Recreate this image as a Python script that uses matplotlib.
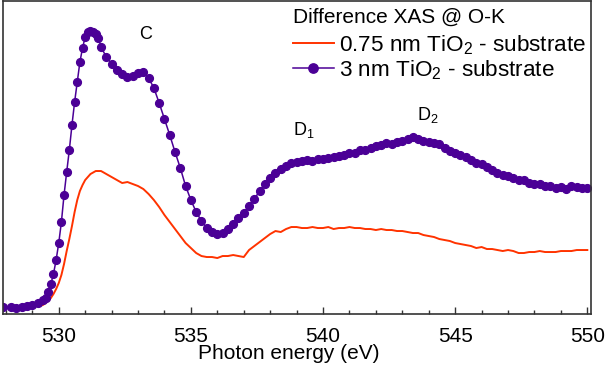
import numpy as np
import matplotlib
matplotlib.use("Agg")
import matplotlib.pyplot as plt

plt.rcParams['font.family'] = ['Liberation Sans', 'DejaVu Sans']
plt.rcParams['mathtext.fontset'] = 'custom'
plt.rcParams['mathtext.rm'] = 'Liberation Sans'
plt.rcParams['mathtext.it'] = 'Liberation Sans:italic'

# 3 nm TiO2 - substrate (arbitrary units)
e_thick = [527.9, 528.2, 528.4, 528.6, 528.8, 529.0, 529.2, 529.4, 529.5, 529.6,
           529.7, 529.8, 529.9, 530.0, 530.1, 530.2, 530.3, 530.4, 530.5, 530.6,
           530.7, 530.8, 530.9, 531.0, 531.1, 531.2, 531.3, 531.4, 531.5, 531.6,
           531.8, 532.0, 532.2, 532.4, 532.6, 532.8, 533.0, 533.2, 533.4, 533.6,
           533.8, 534.0, 534.2, 534.4, 534.6, 534.8, 535.0, 535.2, 535.4, 535.6,
           535.8, 536.0, 536.2, 536.4, 536.6, 536.8, 537.0, 537.2, 537.4, 537.6,
           537.8, 538.0, 538.2, 538.4, 538.6, 538.8, 539.0, 539.2, 539.4, 539.6,
           539.8, 540.0, 540.2, 540.4, 540.6, 540.8, 541.0, 541.2, 541.4, 541.6,
           541.8, 542.0, 542.2, 542.4, 542.6, 542.8, 543.0, 543.2, 543.4, 543.6,
           543.8, 544.0, 544.2, 544.4, 544.6, 544.8, 545.0, 545.2, 545.4, 545.6,
           545.8, 546.0, 546.2, 546.4, 546.6, 546.8, 547.0, 547.2, 547.4, 547.6,
           547.8, 548.0, 548.2, 548.4, 548.6, 548.8, 549.0, 549.2, 549.4, 549.6,
           549.8, 550.0]
i_thick = [0.07, 0.07, 0.06, 0.07, 0.08, 0.09, 0.11, 0.14, 0.16, 0.22,
           0.30, 0.40, 0.54, 0.71, 0.92, 1.19, 1.42, 1.64, 1.89, 2.12,
           2.32, 2.52, 2.66, 2.77, 2.82, 2.83, 2.82, 2.80, 2.76, 2.67,
           2.57, 2.50, 2.44, 2.40, 2.37, 2.38, 2.41, 2.42, 2.36, 2.26,
           2.11, 1.95, 1.79, 1.62, 1.46, 1.28, 1.14, 1.02, 0.93, 0.86,
           0.82, 0.80, 0.81, 0.85, 0.90, 0.96, 1.01, 1.08, 1.15, 1.23,
           1.30, 1.36, 1.41, 1.45, 1.48, 1.51, 1.52, 1.53, 1.54, 1.53,
           1.55, 1.55, 1.56, 1.57, 1.58, 1.59, 1.61, 1.61, 1.64, 1.64,
           1.66, 1.68, 1.69, 1.71, 1.70, 1.72, 1.73, 1.75, 1.77, 1.75,
           1.73, 1.72, 1.71, 1.70, 1.66, 1.63, 1.61, 1.59, 1.57, 1.54,
           1.51, 1.50, 1.47, 1.44, 1.41, 1.39, 1.38, 1.36, 1.34, 1.34,
           1.31, 1.30, 1.30, 1.28, 1.28, 1.26, 1.27, 1.25, 1.28, 1.27,
           1.26, 1.26]

# 0.75 nm TiO2 - substrate (arbitrary units)
e_thin = [527.9, 528.2, 528.4, 528.6, 528.8, 529.0, 529.2, 529.4, 529.5, 529.6,
          529.7, 529.8, 529.9, 530.0, 530.1, 530.2, 530.3, 530.4, 530.5, 530.6,
          530.7, 530.8, 530.9, 531.0, 531.2, 531.4, 531.6, 531.8, 532.0, 532.2,
          532.4, 532.6, 532.8, 533.0, 533.2, 533.4, 533.6, 533.8, 534.0, 534.2,
          534.4, 534.6, 534.8, 535.0, 535.2, 535.4, 535.6, 535.8, 536.0, 536.2,
          536.4, 536.6, 536.8, 537.0, 537.2, 537.4, 537.6, 537.8, 538.0, 538.2,
          538.4, 538.6, 538.8, 539.0, 539.2, 539.4, 539.6, 539.8, 540.0, 540.2,
          540.4, 540.6, 540.8, 541.0, 541.2, 541.4, 541.6, 541.8, 542.0, 542.2,
          542.4, 542.6, 542.8, 543.0, 543.2, 543.4, 543.6, 543.8, 544.0, 544.2,
          544.4, 544.6, 544.8, 545.0, 545.2, 545.4, 545.6, 545.8, 546.0, 546.2,
          546.4, 546.6, 546.8, 547.0, 547.2, 547.4, 547.6, 547.8, 548.0, 548.2,
          548.4, 548.6, 548.8, 549.0, 549.2, 549.4, 549.6, 549.8, 550.0]
i_thin = [0.06, 0.06, 0.06, 0.06, 0.06, 0.07, 0.08, 0.09, 0.11, 0.13,
          0.16, 0.20, 0.25, 0.31, 0.39, 0.50, 0.63, 0.75, 0.88, 1.02,
          1.14, 1.23, 1.29, 1.34, 1.40, 1.43, 1.43, 1.40, 1.37, 1.34,
          1.31, 1.32, 1.30, 1.28, 1.25, 1.20, 1.14, 1.07, 0.99, 0.92,
          0.85, 0.78, 0.71, 0.66, 0.61, 0.58, 0.57, 0.57, 0.56, 0.58,
          0.58, 0.59, 0.58, 0.57, 0.64, 0.68, 0.72, 0.76, 0.80, 0.83,
          0.82, 0.85, 0.87, 0.87, 0.86, 0.86, 0.87, 0.86, 0.86, 0.87,
          0.85, 0.86, 0.86, 0.87, 0.86, 0.86, 0.85, 0.85, 0.84, 0.85,
          0.84, 0.84, 0.83, 0.83, 0.82, 0.81, 0.81, 0.79, 0.78, 0.77,
          0.75, 0.74, 0.73, 0.71, 0.70, 0.69, 0.68, 0.66, 0.67, 0.65,
          0.65, 0.64, 0.63, 0.64, 0.63, 0.61, 0.61, 0.62, 0.62, 0.63,
          0.62, 0.62, 0.62, 0.63, 0.63, 0.63, 0.64, 0.64, 0.64]

peak_labels = ['C', 'D$_1$', 'D$_2$']
peak_x = [533.3, 538.86, 543.56]
peak_y = [2.75, 1.79, 1.94]

orange = '#ff3300'
purple = '#4b0096'

fig = plt.figure(figsize=(6.05, 3.66), dpi=100)
ax = fig.add_axes([0.0045, 0.142, 0.9724, 0.8566])

ax.plot(e_thin, i_thin, color=orange, lw=1.4, label='0.75 nm TiO$_2$ - substrate')
ax.plot(e_thick, i_thick, color=purple, lw=1.1, marker='o', ms=5.6,
        label='3 nm TiO$_2$ - substrate')

ax.text(peak_x[0], peak_y[0], peak_labels[0], ha='center', va='baseline', fontsize=13)
for lab, x, y in zip(peak_labels[1:], peak_x[1:], peak_y[1:]):
    ax.text(x, y, lab, ha='left', va='baseline', fontsize=13)

ax.set_xlim(527.88, 550.14)
ax.set_ylim(0, 3.135)
ax.set_xticks([530, 535, 540, 545, 550])
ax.set_xticks(np.arange(528, 551, 1), minor=True)
ax.set_yticks([])
ax.tick_params(axis='x', which='major', direction='in', length=5, width=1,
               labelsize=15, pad=9, colors='#333333', labelcolor='black')
ax.tick_params(axis='x', which='minor', direction='in', length=2.7, width=1,
               colors='#333333')
for sp in ax.spines.values():
    sp.set_color('#333333')
    sp.set_linewidth(1.2)

ax.set_xlabel('Photon energy (eV)', fontsize=15, x=0.487, labelpad=-1)

leg = ax.legend(loc='upper left', bbox_to_anchor=(293 / 605, 1 - 8 / 366),
                bbox_transform=fig.transFigure, frameon=False,
                title='Difference XAS @ O-K', title_fontsize=15, fontsize=16.2,
                alignment='left', handlelength=1.8, handletextpad=0.25,
                labelspacing=0.05, borderpad=0, borderaxespad=0, numpoints=1,
                markerscale=1.2)
leg._legend_box.sep = 4.5

fig.savefig('out.png', dpi=100)
